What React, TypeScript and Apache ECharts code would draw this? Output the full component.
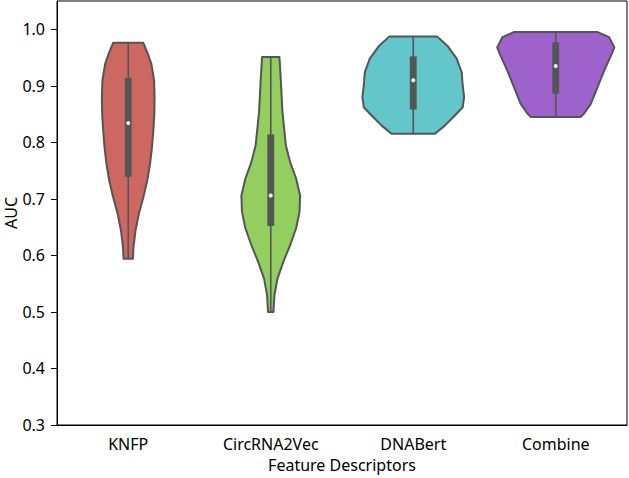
import React, { useEffect, useRef } from "react";
import * as echarts from "echarts";

const categories = ["KNFP", "CircRNA2Vec", "DNABert", "Combine"];

// violin outlines: [AUC, half width as a fraction of the category band]
const knfpProfile = [
  [0.976, 0.106], [0.955, 0.14], [0.939, 0.162], [0.91, 0.181], [0.88, 0.185],
  [0.85, 0.183], [0.821, 0.176], [0.79, 0.166], [0.762, 0.153], [0.733, 0.134],
  [0.703, 0.106], [0.674, 0.075], [0.644, 0.051], [0.615, 0.037], [0.594, 0.033],
];
const circProfile = [
  [0.951, 0.061], [0.913, 0.07], [0.854, 0.082], [0.795, 0.106], [0.765, 0.136],
  [0.736, 0.178], [0.706, 0.206], [0.677, 0.202], [0.648, 0.178], [0.618, 0.136],
  [0.589, 0.089], [0.559, 0.047], [0.53, 0.026], [0.5, 0.019],
];
const dnabertProfile = [
  [0.987, 0.169], [0.971, 0.239], [0.948, 0.305], [0.924, 0.34], [0.901, 0.347],
  [0.88, 0.357], [0.862, 0.347], [0.848, 0.294], [0.83, 0.223], [0.815, 0.153],
];
const combineProfile = [
  [0.995, 0.294], [0.986, 0.375], [0.968, 0.411], [0.957, 0.394], [0.927, 0.34],
  [0.898, 0.294], [0.868, 0.246], [0.851, 0.199], [0.845, 0.176],
];
const profiles = [knfpProfile, circProfile, dnabertProfile, combineProfile];

const q1 = [0.739, 0.652, 0.858, 0.886];
const q3 = [0.914, 0.814, 0.952, 0.977];
const medians = [0.834, 0.706, 0.91, 0.935];
const whiskerLow = [0.594, 0.5, 0.815, 0.845];
const whiskerHigh = [0.976, 0.951, 0.987, 0.995];

const colors = ["#CD6761", "#93CE5F", "#63C6CB", "#9E62CC"];
const yTicks = [0.3, 0.4, 0.5, 0.6, 0.7, 0.8, 0.9, 1.0];
const yAxisTitle = "AUC";
const xAxisTitle = "Feature Descriptors";

const FONT = "Noto Sans";
const FS = 16;

export default function App() {
  const ref = useRef<HTMLDivElement>(null);
  useEffect(() => {
    if (!ref.current) return;
    const chart = echarts.init(ref.current, null, { renderer: "svg" });
    const edge = "#555555";
    chart.setOption({
      animation: false,
      backgroundColor: "#ffffff",
      grid: {
        left: 57,
        right: 2,
        top: 1,
        bottom: 53,
        outerBoundsMode: "none",
        containLabel: false,
        show: true,
        borderColor: "#000",
        borderWidth: 1,
      },
      graphic: [
        {
          type: "text",
          x: 11,
          y: 213,
          rotation: Math.PI / 2,
          style: {
            text: yAxisTitle,
            fontFamily: FONT,
            fontSize: FS,
            fill: "#000",
            align: "center",
            verticalAlign: "middle",
          },
        },
      ],
      xAxis: {
        type: "category",
        data: categories,
        name: xAxisTitle,
        nameLocation: "middle",
        nameGap: 32,
        nameTextStyle: { fontFamily: FONT, fontSize: FS, color: "#000" },
        axisLine: { lineStyle: { color: "#000", width: 1 } },
        axisTick: { alignWithLabel: true, length: 6, lineStyle: { color: "#000" } },
        axisLabel: { fontFamily: FONT, fontSize: FS, color: "#000", margin: 11 },
        splitLine: { show: false },
      },
      yAxis: {
        type: "value",
        min: 0.3,
        max: 1.05,
        axisLine: { show: true, lineStyle: { color: "#000", width: 1 } },
        axisTick: { show: true, length: 6, customValues: yTicks, lineStyle: { color: "#000" } },
        axisLabel: {
          fontFamily: FONT,
          fontSize: FS,
          color: "#000",
          margin: 12,
          customValues: yTicks,
          formatter: (v: number) => v.toFixed(1),
        },
        splitLine: { show: false },
      },
      series: [
        {
          type: "custom",
          data: categories.map((_, i) => [i]),
          renderItem: (params: any, api: any) => {
            const i = api.value(0);
            const band = api.size([1, 0])[0];
            const prof = profiles[i];
            const cx = api.coord([i, prof[0][0]])[0];
            const right = prof.map((p) => [cx + p[1] * band, api.coord([i, p[0]])[1]]);
            const left = prof
              .slice()
              .reverse()
              .map((p) => [cx - p[1] * band, api.coord([i, p[0]])[1]]);
            const pts = right.concat(left);
            const yLow = api.coord([i, whiskerLow[i]])[1];
            const yHigh = api.coord([i, whiskerHigh[i]])[1];
            const yQ1 = api.coord([i, q1[i]])[1];
            const yQ3 = api.coord([i, q3[i]])[1];
            const yMed = api.coord([i, medians[i]])[1];
            const bw = 0.048 * band;
            return {
              type: "group",
              children: [
                {
                  type: "polygon",
                  shape: { points: pts },
                  style: { fill: colors[i], stroke: edge, lineWidth: 2, lineJoin: "round" },
                },
                {
                  type: "line",
                  shape: { x1: cx, y1: yHigh, x2: cx, y2: yLow },
                  style: { stroke: edge, lineWidth: 1.6 },
                },
                {
                  type: "rect",
                  shape: { x: cx - bw / 2, y: yQ3, width: bw, height: yQ1 - yQ3 },
                  style: { fill: edge },
                },
                {
                  type: "circle",
                  shape: { cx: cx, cy: yMed, r: 2 },
                  style: { fill: "#ffffff" },
                },
              ],
            };
          },
        },
      ],
    });
    return () => chart.dispose();
  }, []);
  return (
    <div
      ref={ref}
      style={{ position: "absolute", left: 0, top: 0, width: 629, height: 478 }}
    />
  );
}
